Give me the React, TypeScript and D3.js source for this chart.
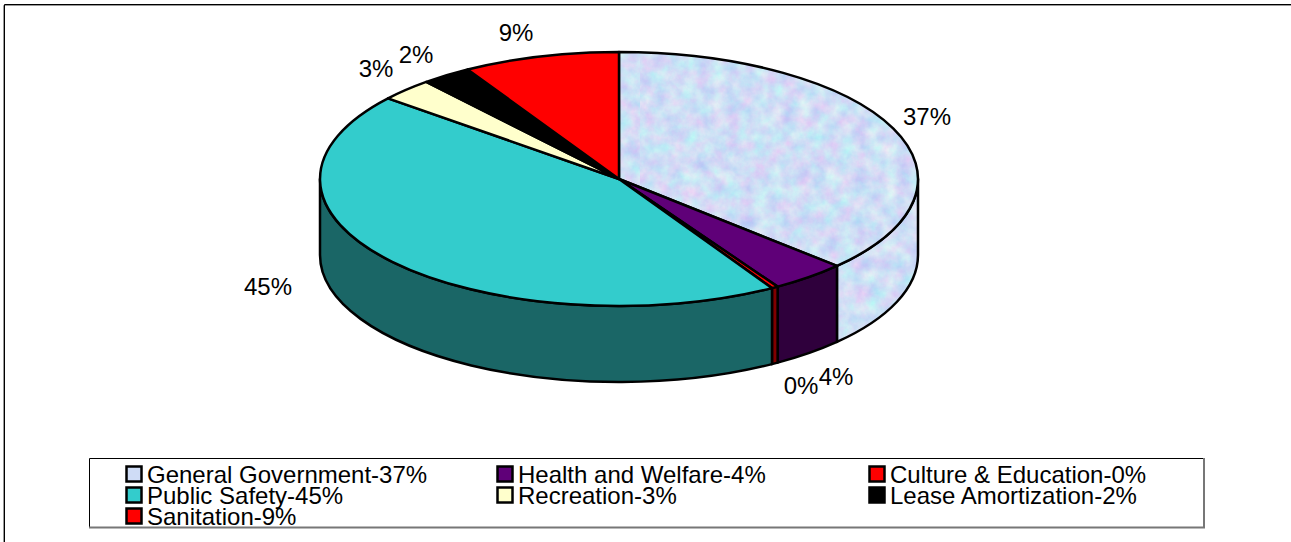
import * as d3 from "d3";

// General Government uses the mottled texture, the others flat fills
const categories = [
  "General Government",
  "Health and Welfare",
  "Culture & Education",
  "Public Safety",
  "Recreation",
  "Lease Amortization",
  "Sanitation",
];
const values = [37.0, 4.1, 0.35, 44.5, 2.9, 2.7, 8.45];
const shownPercents = [37, 4, 0, 45, 3, 2, 9];
const topColors = ["url(#marble)", "#5f0078", "#ff0000", "#33cccc", "#ffffcc", "#000000", "#ff0000"];
const sideColors = ["url(#marble)", "#2f003c", "#800000", "#1a6666", "#808066", "#000000", "#800000"];
const legendSwatches = ["#cfdcf6", "#5f0078", "#ff0000", "#33cccc", "#ffffcc", "#000000", "#ff0000"];
// label anchors, in px of the chart
const labelX = [927, 836, 801, 268, 376, 416, 516];
const labelY = [116, 376, 385, 286, 68, 54, 32];

const width = 1291;
const height = 542;
const cx = 619;
const cy = 179;
const rx = 299;
const ry = 127;
const depth = 76;

const font = "'Liberation Sans', Arial, sans-serif";

const pie = d3.pie<number>().sort(null).value((d) => d);
const slices = pie(values);

const ex = (t: number) => cx + rx * Math.sin(t);
const ey = (t: number) => cy - ry * Math.cos(t);

// elliptical arc from a to b, clockwise on screen
const arcTo = (b: number, a: number, dy = 0) =>
  `A${rx},${ry} 0 ${b - a > Math.PI ? 1 : 0} 1 ${ex(b)},${ey(b) + dy}`;

const topPath = (a: number, b: number) =>
  `M${cx},${cy}L${ex(a)},${ey(a)}${arcTo(b, a)}Z`;

// only the front half of the rim shows (pi/2 to 3pi/2)
function wallPath(start: number, end: number) {
  const a = Math.max(start, Math.PI / 2);
  const b = Math.min(end, (3 * Math.PI) / 2);
  if (b <= a) return null;
  const back = `A${rx},${ry} 0 0 0 ${ex(a)},${ey(a)}`;
  return `M${ex(a)},${ey(a)}L${ex(a)},${ey(a) + depth}${arcTo(b, a, depth)}L${ex(b)},${ey(b)}${back}Z`;
}

const legendCols = [125, 496, 868];
const legendRows = [476, 497, 518];

export default function App() {
  return (
    <svg
      width={width}
      height={height}
      style={{ position: "absolute", left: 0, top: 0, background: "#fff" }}
      fontFamily={font}
    >
      <defs>
        <filter id="mottle" x="0" y="0" width="100%" height="100%" colorInterpolationFilters="sRGB">
          <feTurbulence type="fractalNoise" baseFrequency="0.07" numOctaves={5} seed={7} />
          <feColorMatrix
            type="matrix"
            values="0.28 0 0 0 0.67
                    0 0.24 0 0 0.75
                    0 0 0 0 0.96
                    0 0 0 0 1"
          />
        </filter>
        <pattern id="marble" patternUnits="userSpaceOnUse" width={640} height={360}>
          <rect width={640} height={360} filter="url(#mottle)" />
        </pattern>
      </defs>

      {/* chart frame: only top and left edges show */}
      <path d={`M3.5,${height}V5.5H${width}`} fill="none" stroke="#999" strokeWidth={1} />
      <path d={`M4.5,${height}V4.5H${width}`} fill="none" stroke="#000" strokeWidth={1} />

      {slices.map((s, i) => {
        const d = wallPath(s.startAngle, s.endAngle);
        return d ? (
          <path key={categories[i]} d={d} fill={sideColors[i]} stroke="#000" strokeWidth={2.5} strokeLinejoin="round" />
        ) : null;
      })}
      {slices.map((s, i) => (
        <path
          key={categories[i]}
          d={topPath(s.startAngle, s.endAngle)}
          fill={topColors[i]}
          stroke="#000"
          strokeWidth={2.5}
          strokeLinejoin="round"
        />
      ))}

      {shownPercents.map((p, i) => (
        <text key={categories[i]} x={labelX[i]} y={labelY[i] + 8.5} textAnchor="middle" fontSize={24} fill="#000">
          {p}%
        </text>
      ))}

      {/* legend box: dark top/left, grey right/bottom */}
      <path d="M89.5,527V458.5H1204" fill="none" stroke="#000" strokeWidth={1} />
      <path d="M89,527.5H1204V458" fill="none" stroke="#777" strokeWidth={2} />
      {categories.map((c, i) => {
        const x = legendCols[i % 3];
        const y = legendRows[Math.floor(i / 3)];
        return (
          <g key={c}>
            <rect x={x + 1.5} y={y - 9.5} width={15} height={15} fill={legendSwatches[i]} stroke="#000" strokeWidth={2.5} />
            <text x={x + 22} y={y + 7} fontSize={24} fill="#000">
              {c}-{shownPercents[i]}%
            </text>
          </g>
        );
      })}
    </svg>
  );
}
